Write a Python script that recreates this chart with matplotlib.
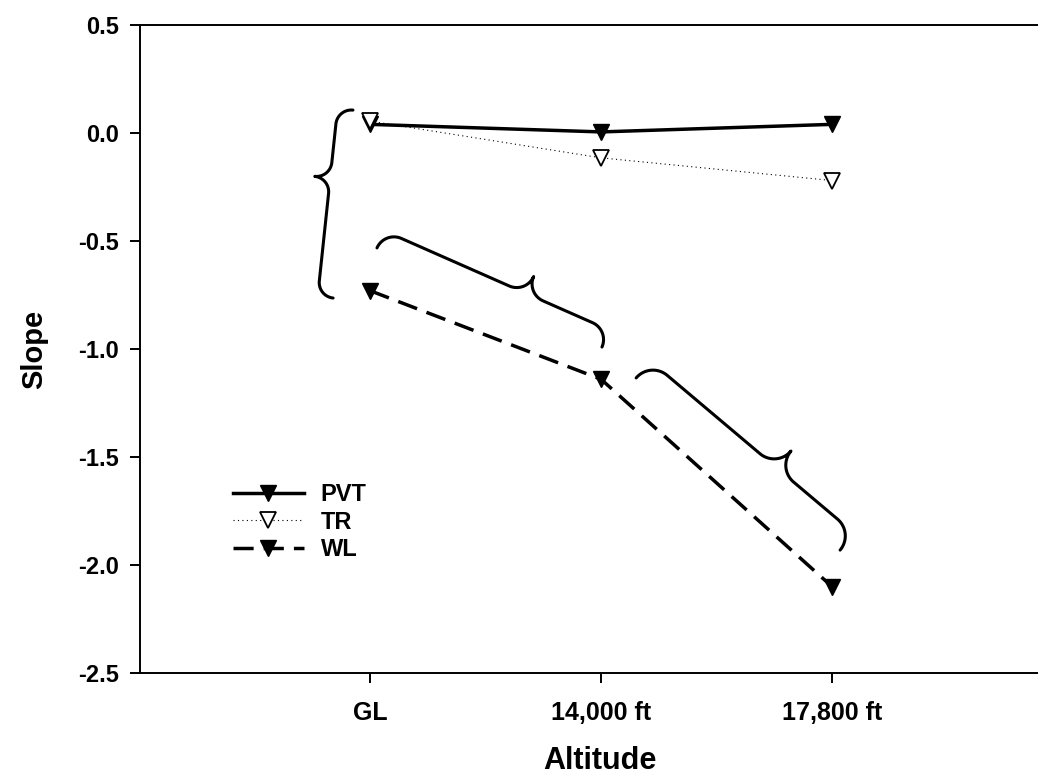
import numpy as np
import matplotlib
matplotlib.use("Agg")
import matplotlib.pyplot as plt

# data
altitudes = ["GL", "14,000 ft", "17,800 ft"]
pvt = [0.04, 0.005, 0.04]
tr = [0.055, -0.115, -0.22]
wl = [-0.73, -1.14, -2.10]

# brace annotations: start, end (data coords), tip position along chord, depth (px), side
braces = [
    ((0.926, 0.106), (0.840, -0.764), 0.37, 31, -1),
    ((1.030, -0.532), (2.004, -0.991), 0.63, 37, 1),
    ((2.152, -1.134), (3.035, -1.931), 0.62, 44, 1),
]

plt.rcParams['font.family'] = ['Liberation Sans', 'DejaVu Sans']

fig = plt.figure(figsize=(10.38, 7.79), dpi=100)
# axes run past the right edge of the figure, as in the original
ax = fig.add_axes([140 / 1038, 106 / 779, 920 / 1038, 648 / 779])

x = np.arange(1, len(altitudes) + 1)
ax.plot(x, pvt, color='black', lw=2.5, marker='v', ms=12, mfc='black', mec='black', label='PVT', zorder=3)
ax.plot(x, tr, color='black', lw=0.8, ls=(0, (1, 3)), marker='v', ms=12, mfc='white', mec='black',
        mew=1.3, label='TR', zorder=3)
ax.plot(x, wl, color='black', lw=2.5, ls=(0, (5.8, 2.9)), marker='v', ms=12, mfc='black', mec='black',
        label='WL', zorder=3)

ax.set_xlim(0.004, 3.987)
ax.set_ylim(-2.5, 0.5)
yt = np.arange(-2.5, 0.51, 0.5)
ax.set_yticks(yt)
ax.set_yticklabels(['%.1f' % v for v in yt], fontsize=17, fontweight='bold')
ax.set_xticks(x)
ax.set_xticklabels(altitudes, fontsize=18, fontweight='bold')
ax.tick_params(axis='both', direction='out', length=7, width=1.4, pad=8)
ax.tick_params(axis='x', pad=13)
ax.spines['right'].set_visible(False)
for s in ['left', 'top', 'bottom']:
    ax.spines[s].set_linewidth(1.4)

ax.set_ylabel('Slope', fontsize=21, fontweight='bold', labelpad=22)
ax.set_xlabel('Altitude', fontsize=22, fontweight='bold', labelpad=15)

leg = ax.legend(loc='upper left', bbox_to_anchor=(0.078, 0.326), frameon=False, handlelength=3.0,
                labelspacing=0.2, handletextpad=0.72, prop={'size': 17, 'weight': 'bold'})


def draw_brace(ax, p0, p1, frac, depth, side):
    # build a curly brace in display space, then map back to data coords
    a = ax.transData.transform(p0)
    b = ax.transData.transform(p1)
    L = np.hypot(*(b - a))
    u = (b - a) / L
    n = np.array([-u[1], u[0]]) * side
    r = depth / 2.0
    tip = frac * L
    th = np.linspace(0, np.pi / 2, 30)
    segs = [
        np.column_stack([r - r * np.cos(th), r * np.sin(th)]),
        np.column_stack([tip - r + r * np.sin(th), 2 * r - r * np.cos(th)]),
        np.column_stack([tip + r - r * np.cos(th), 2 * r - r * np.sin(th)]),
        np.column_stack([L - r + r * np.sin(th), r * np.cos(th)]),
    ]
    pts = np.vstack(segs)
    disp = a + pts[:, :1] * u + pts[:, 1:] * n
    data = ax.transData.inverted().transform(disp)
    ax.plot(data[:, 0], data[:, 1], color='black', lw=2.2, solid_capstyle='round', zorder=2)


for p0, p1, frac, depth, side in braces:
    draw_brace(ax, p0, p1, frac, depth, side)

fig.savefig('out.png', dpi=100)
